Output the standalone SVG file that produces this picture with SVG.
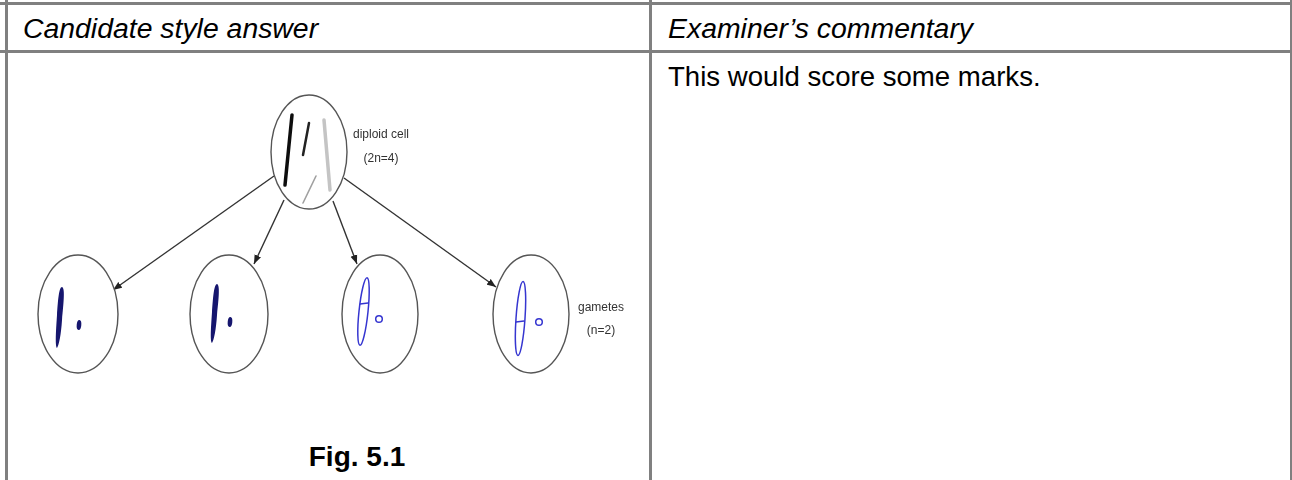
<svg xmlns="http://www.w3.org/2000/svg" width="1292" height="480" viewBox="0 0 1292 480">
  <style>
    .rule { stroke: #808080; stroke-width: 3; fill: none; }
    .head { font-family: "Liberation Sans", Arial, sans-serif; font-size: 28.4px; font-style: italic; fill: #000; }
    .body { font-family: "Liberation Sans", Arial, sans-serif; font-size: 27.6px; fill: #000; }
    .caption { font-family: "Liberation Sans", Arial, sans-serif; font-size: 28px; font-weight: bold; fill: #000; }
    .cell { fill: #fff; stroke: #555; stroke-width: 1.4; }
    .label { font-family: "Liberation Sans", Arial, sans-serif; font-size: 12px; fill: #333; }
    .link { stroke: #333; stroke-width: 1.4; fill: none; marker-end: url(#tip); }
    .navy { fill: #14146e; }
    .blue { stroke: #3535d0; stroke-width: 1.5; fill: none; }
  </style>
  <defs>
    <marker id="tip" markerWidth="10" markerHeight="8" refX="9" refY="4" orient="auto" markerUnits="userSpaceOnUse">
      <path d="M0,0.5 L9,4 L0,7.5 Z" fill="#222"/>
    </marker>
    <filter id="soft" x="-5%" y="-5%" width="110%" height="110%">
      <feGaussianBlur stdDeviation="0.5"/>
    </filter>
  </defs>

  <rect width="1292" height="480" fill="#fff"/>

  <!-- table rules -->
  <g id="table">
    <line class="rule" x1="0" y1="3.5" x2="1292" y2="3.5"/>
    <line class="rule" x1="0" y1="51.5" x2="1292" y2="51.5"/>
    <line class="rule" x1="6.5" y1="0" x2="6.5" y2="480"/>
    <line class="rule" x1="650.5" y1="0" x2="650.5" y2="480"/>
    <line class="rule" x1="1291.5" y1="0" x2="1291.5" y2="480"/>
  </g>

  <g id="headers">
    <text class="head" x="23" y="38">Candidate style answer</text>
    <text class="head" x="668" y="38">Examiner’s commentary</text>
  </g>

  <text id="commentary" class="body" x="668" y="86">This would score some marks.</text>

  <!-- meiosis sketch -->
  <g id="figure" filter="url(#soft)">
    <g id="connectors">
      <line class="link" x1="274" y1="176" x2="113" y2="290"/>
      <line class="link" x1="284" y1="200" x2="254" y2="264"/>
      <line class="link" x1="333" y1="201" x2="357" y2="264"/>
      <line class="link" x1="344" y1="178" x2="496" y2="287"/>
    </g>

    <g id="diploid-cell">
      <ellipse class="cell" cx="309" cy="152" rx="38" ry="57"/>
      <line x1="292" y1="115" x2="285" y2="185" stroke="#111" stroke-width="3.5" stroke-linecap="round"/>
      <line x1="309" y1="123" x2="303" y2="155" stroke="#222" stroke-width="2.5" stroke-linecap="round"/>
      <line x1="324" y1="120" x2="330" y2="190" stroke="#c4c4c4" stroke-width="3.5" stroke-linecap="round"/>
      <line x1="316" y1="176" x2="303" y2="203" stroke="#a0a0a0" stroke-width="1.6" stroke-linecap="round"/>
      <text class="label" x="381" y="138" text-anchor="middle">diploid cell</text>
      <text class="label" x="381" y="162" text-anchor="middle">(2n=4)</text>
    </g>

    <g id="gamete-1">
      <ellipse class="cell" cx="78" cy="314" rx="40" ry="59"/>
      <path class="navy" d="M62,287 C65,288 64,300 62,320 C61,335 59,345 57,348 C55,346 56,330 57,315 C58,300 59,287 62,287 Z"/>
      <ellipse class="navy" cx="79" cy="325" rx="2.3" ry="5" transform="rotate(5 79 325)"/>
    </g>

    <g id="gamete-2">
      <ellipse class="cell" cx="229" cy="314" rx="39" ry="59"/>
      <path class="navy" d="M217,284 C220,285 219,297 217,315 C216,330 214,340 212,343 C210,341 211,327 212,312 C213,298 214,284 217,284 Z"/>
      <ellipse class="navy" cx="230" cy="322" rx="2.3" ry="5" transform="rotate(5 230 322)"/>
    </g>

    <g id="gamete-3">
      <ellipse class="cell" cx="380" cy="314" rx="38" ry="59"/>
      <ellipse class="blue" cx="363.5" cy="311.5" rx="4.5" ry="34" transform="rotate(6 363.5 311.5)"/>
      <line class="blue" x1="360" y1="304" x2="368" y2="303"/>
      <circle class="blue" cx="379" cy="319" r="3.3" stroke-width="2"/>
    </g>

    <g id="gamete-4">
      <ellipse class="cell" cx="531" cy="314" rx="38" ry="59"/>
      <ellipse class="blue" cx="520.5" cy="318.5" rx="4.5" ry="37" transform="rotate(4 520.5 318.5)"/>
      <line class="blue" x1="516" y1="322" x2="524" y2="321"/>
      <circle class="blue" cx="539" cy="322" r="3.3" stroke-width="2"/>
      <text class="label" x="601" y="311" text-anchor="middle">gametes</text>
      <text class="label" x="601" y="334" text-anchor="middle">(n=2)</text>
    </g>
  </g>

  <text id="caption" class="caption" x="357" y="466" text-anchor="middle">Fig. 5.1</text>
</svg>
